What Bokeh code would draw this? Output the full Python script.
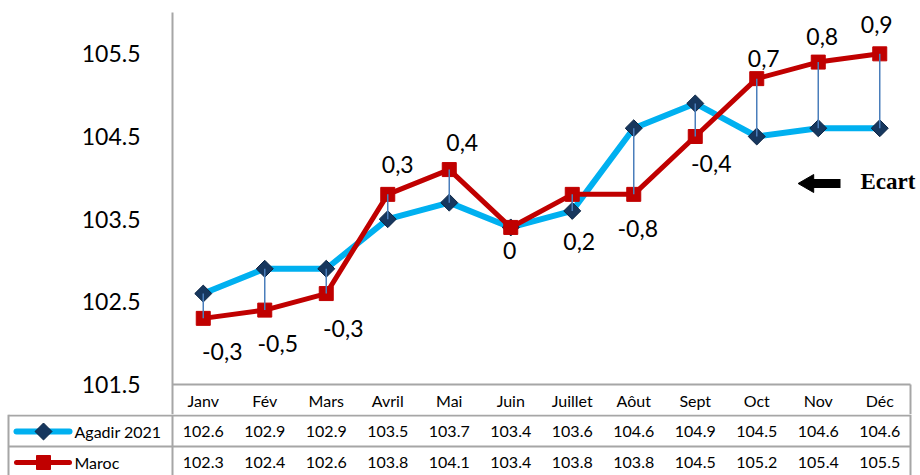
import math
from bokeh.plotting import figure
from bokeh.models import Range1d, FixedTicker, ColumnDataSource
from bokeh.embed import file_html
from bokeh.resources import INLINE
from bokeh.core.properties import value

# ---------------- data ----------------
months = ["Janv", "Fév", "Mars", "Avril", "Mai", "Juin", "Juillet", "Aôut", "Sept", "Oct", "Nov", "Déc"]
agadir = [102.6, 102.9, 102.9, 103.5, 103.7, 103.4, 103.6, 104.6, 104.9, 104.5, 104.6, 104.6]
maroc = [102.3, 102.4, 102.6, 103.8, 104.1, 103.4, 103.8, 103.8, 104.5, 105.2, 105.4, 105.5]
ecart = [-0.3, -0.5, -0.3, 0.3, 0.4, 0, 0.2, -0.8, -0.4, 0.7, 0.8, 0.9]
y_ticks = [101.5, 102.5, 103.5, 104.5, 105.5]
series_names = ["Agadir 2021", "Maroc"]
ecart_title = "Ecart"

# ---------------- layout / style ----------------
W = 920
LEFT = 172          # px left of the plot area
COL = 61.5          # px per month column
TOP = 12
Y_MIN, Y_MAX = 101.5, 106.0
PLOT_H = 372
HDR_H = 30
TABLE_H = 61
S = PLOT_H / (Y_MAX - Y_MIN)
n = len(months)
xs = list(range(n))
x_hi = -0.5 + (W - LEFT) / COL
x_lo = -0.5 - LEFT / COL

BLUE = "#00B0F0"
NAVY = "#17375E"
NAVY_EDGE = "#0B2545"
RED = "#C00000"
DROP = "#4A7EBB"
GRID = "#A6A6A6"
FONT = "Lato"

# label offsets (px) relative to the Maroc point
lab_dx = [19, 13, 17, 10, 13, -1, 7, 4, 16, 7, 4, -3]
lab_dy = [33, 33, 35, -30, -27, 23, 47, 34, 27, -20, -26, -29]


def px2x(px):
    return -0.5 + (px - LEFT) / COL


def py2y(py):
    return Y_MAX - (py - TOP) / S


def fmt_ecart(v):
    return ("%g" % v).replace(".", ",")


# ---------------- chart ----------------
p = figure(width=W, height=TOP + PLOT_H + HDR_H,
           x_range=Range1d(-0.5, x_hi), y_range=Range1d(Y_MIN - HDR_H / S, Y_MAX),
           x_axis_location=None, y_axis_location="left",
           min_border_left=LEFT, min_border_right=0, min_border_top=TOP, min_border_bottom=0,
           toolbar_location=None, output_backend="svg")
p.outline_line_color = None
p.xgrid.visible = False
p.ygrid.visible = False
p.background_fill_color = "white"
p.border_fill_color = "white"

ax = p.yaxis[0]
ax.ticker = FixedTicker(ticks=y_ticks)
ax.axis_line_color = GRID
ax.axis_line_width = 2
ax.major_tick_line_color = None
ax.minor_tick_line_color = None
ax.major_label_standoff = 26
ax.major_label_text_font = FONT
ax.major_label_text_font_size = "23px"
ax.major_label_text_color = "black"

# header row (months)
p.segment(x0=[-0.5], y0=[Y_MIN], x1=[n - 0.5], y1=[Y_MIN], line_color=GRID, line_width=2)
p.segment(x0=[n - 0.5], y0=[Y_MIN - HDR_H / S], x1=[n - 0.5], y1=[Y_MIN], line_color=GRID, line_width=2)
p.text(x=xs, y=[Y_MIN] * n, text=months, y_offset=16, text_align="center", text_baseline="middle",
       text_font=value(FONT), text_font_size="16px", text_color="black")

# series
p.line(xs, agadir, line_color=BLUE, line_width=6, line_join="round")
p.line(xs, maroc, line_color=RED, line_width=5, line_join="round")
p.scatter(xs, agadir, marker="square", angle=math.pi / 4, size=12,
          fill_color=NAVY, line_color=NAVY_EDGE, line_width=1)
p.scatter(xs, maroc, marker="square", size=14, fill_color=RED, line_color=RED)
# high-low lines
p.segment(x0=xs, y0=agadir, x1=xs, y1=maroc, line_color=DROP, line_width=1.5)

# ecart labels
lsrc = ColumnDataSource(dict(x=xs, y=maroc, t=[fmt_ecart(v) for v in ecart], dx=lab_dx, dy=lab_dy))
p.text(x="x", y="y", text="t", x_offset="dx", y_offset="dy", source=lsrc,
       text_align="center", text_baseline="middle",
       text_font=value(FONT), text_font_size="23px", text_color="black")

# Ecart arrow + title
p.segment(x0=[px2x(812)], y0=[py2y(183)], x1=[px2x(840)], y1=[py2y(183)],
          line_color="black", line_width=9, line_cap="butt")
p.scatter([px2x(808)], [py2y(183)], marker="triangle", angle=math.pi / 2, size=18,
          fill_color="black", line_color="black")
p.text(x=[px2x(860)], y=[py2y(181)], text=[ecart_title], text_align="left", text_baseline="middle",
       text_font=value("Liberation Serif"), text_font_style="bold", text_font_size="23px",
       text_color="black")

# ---------------- table ----------------
t = figure(width=W, height=TABLE_H, x_range=Range1d(x_lo, x_hi), y_range=Range1d(TABLE_H, 0),
           x_axis_location=None, y_axis_location=None,
           min_border_left=0, min_border_right=0, min_border_top=0, min_border_bottom=0,
           toolbar_location=None, output_backend="svg")
t.outline_line_color = None
t.xgrid.visible = False
t.ygrid.visible = False

xl = px2x(8)
t.segment(x0=[xl, xl], y0=[1, 32], x1=[n - 0.5, n - 0.5], y1=[1, 32], line_color=GRID, line_width=2)
t.segment(x0=[xl, -0.5, n - 0.5], y0=[0, 0, 0], x1=[xl, -0.5, n - 0.5], y1=[TABLE_H] * 3,
          line_color=GRID, line_width=2)

row_y = [17, 48]
t.text(x=xs, y=[row_y[0]] * n, text=["%.1f" % v for v in agadir], text_align="center",
       text_baseline="middle", text_font=value(FONT), text_font_size="16px", text_color="black")
t.text(x=xs, y=[row_y[1]] * n, text=["%.1f" % v for v in maroc], text_align="center",
       text_baseline="middle", text_font=value(FONT), text_font_size="16px", text_color="black")

# legend keys
t.segment(x0=[px2x(16)], y0=[row_y[0]], x1=[px2x(69)], y1=[row_y[0]], line_color=BLUE,
          line_width=6, line_cap="round")
t.scatter([px2x(43)], [row_y[0]], marker="square", angle=math.pi / 4, size=12,
          fill_color=NAVY, line_color=NAVY_EDGE)
t.segment(x0=[px2x(16)], y0=[row_y[1]], x1=[px2x(69)], y1=[row_y[1]], line_color=RED,
          line_width=5, line_cap="round")
t.scatter([px2x(43)], [row_y[1]], marker="square", size=14, fill_color=RED, line_color=RED)
t.text(x=[px2x(74), px2x(74)], y=row_y, text=series_names, text_align="left",
       text_baseline="middle", text_font=value(FONT), text_font_size="16px", text_color="black")

open("out.html", "w").write(file_html([p, t], INLINE))
